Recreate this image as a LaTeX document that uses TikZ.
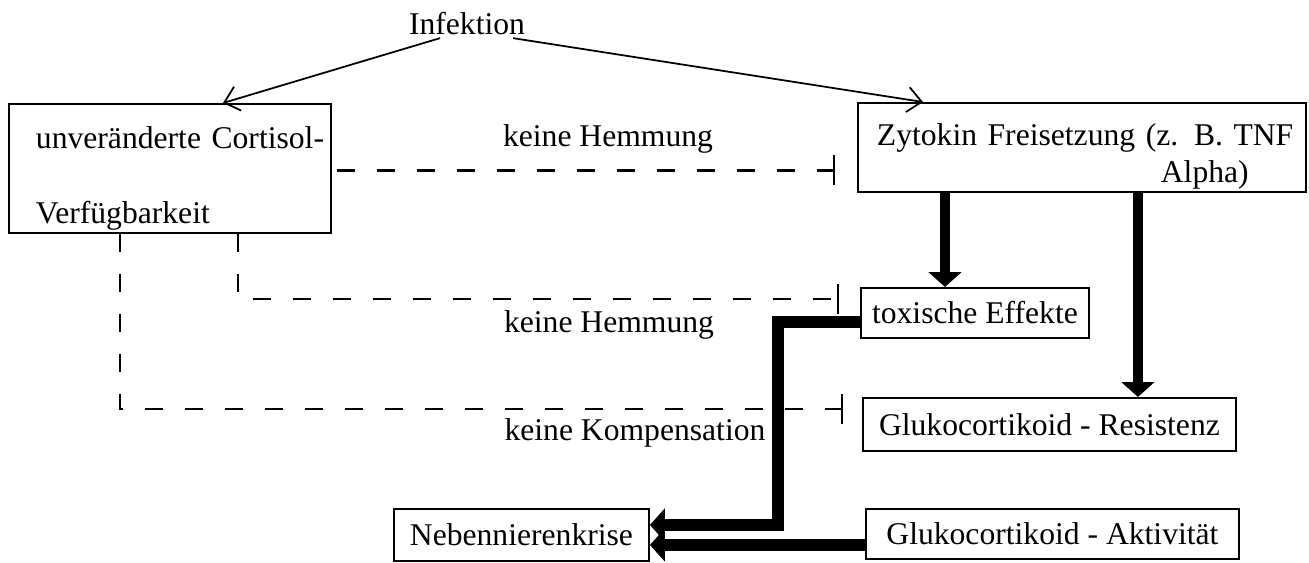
\documentclass[tikz,border=0pt]{standalone}
\usepackage{fontspec}
\setmainfont{Liberation Serif}
\usetikzlibrary{arrows.meta}
\usetikzlibrary{positioning}
\tikzset{box/.style={draw, line width=1.1pt, inner sep=0pt, anchor=north west}}
\tikzset{connect/.style={draw, line width=1pt, -{Straight Barb[length=0.28cm,width=0.5cm]}}}
\tikzset{flow/.style={draw, line width=0.2cm, -{Triangle[length=0.3cm,width=0.65cm]}}}
\tikzset{inhib/.style={draw, line width=1.2pt, dash pattern=on 0.36cm off 0.44cm, -{Bar[width=0.6cm]}}}

\begin{document}
\begin{tikzpicture}[x=0.02cm,y=-0.02cm,font=\fontsize{18}{21}\selectfont]
\useasboundingbox (0,0) rectangle (1309,562);

%infection
\node[inner sep=0.05cm] (inf) at (467,24) {Infektion};

%cortisol and cytokine boxes
\node[box,minimum width=6.44cm,minimum height=2.58cm,text width=5.36cm,inner xsep=0.54cm,align=left] (cort) at (8,103) {\rule{0pt}{0.85cm}\mbox{unveränderte Cortisol-}\\[0.76cm]Verfügbarkeit};
\node[box,minimum height=1.78cm,text width=8.2cm,inner xsep=0.38cm,align=left] (zyto) at (857,102) {\rule{0pt}{0.8cm}\makebox[8.2cm][s]{Zytokin Freisetzung (z. B. TNF}\\\hspace*{5.68cm}Alpha)};

%effects
\node[box,minimum width=4.56cm,minimum height=1cm] (tox) at (860,287) {toxische Effekte};
\node[box,minimum width=7.46cm,minimum height=1.06cm] (resist) at (862,397) {Glukocortikoid - Resistenz};
\node[box,minimum width=7.46cm,minimum height=1cm] (aktiv) at (865,508) {Glukocortikoid - Aktivität};
\node[box,minimum width=5.1cm,minimum height=1.04cm] (krise) at (393,508) {Nebennierenkrise};

%labels
\node (hem1) at (608,139) {keine Hemmung};
\node (hem2) at (609,325) {keine Hemmung};
\node (komp) at (635,433) {keine Kompensation};

%infection arrows
\path[connect] ([xshift=-0.54cm]inf.south) -- ([xshift=4.3cm]cort.north west);
\path[connect] ([xshift=0.92cm]inf.south) -- ([xshift=1.32cm]zyto.north west);

%no inhibition
\coordinate (c1) at ([xshift=4.6cm]cort.south west);
\coordinate (c2) at ([xshift=2.24cm]cort.south west);
\path[inhib] ([xshift=0.1cm,yshift=-0.04cm]cort.east) -- ([xshift=-0.44cm,yshift=-0.04cm]cort.east -| zyto.west);
\path[inhib] (c1) |- ([xshift=-0.42cm,yshift=0.28cm]tox.west);
\path[inhib] (c2) |- ([xshift=-0.38cm,yshift=0.31cm]resist.west);

%cytokine effects
\coordinate (z1) at ([xshift=1.76cm]zyto.south west);
\coordinate (z2) at ([xshift=5.62cm]zyto.south west);
\path[flow] (z1) -- (z1 |- tox.north);
\path[flow] (z2) -- (z2 |- resist.north);

%crisis
\path[flow,line width=0.23cm] ([yshift=-0.18cm]tox.west) -- ++(-1.64cm,0) |- ([yshift=0.2cm]krise.east);
\path[flow,line width=0.23cm] ([yshift=-0.22cm]aktiv.west) -- ([yshift=-0.22cm]aktiv.west -| krise.east);

\end{tikzpicture}
\end{document}
